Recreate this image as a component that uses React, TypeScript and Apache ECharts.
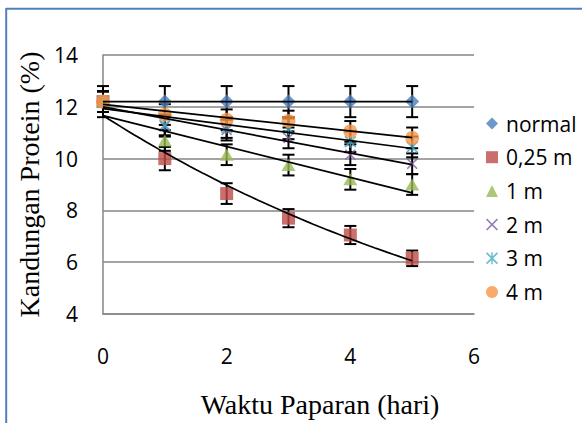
import React, { useEffect, useRef } from "react";
import * as echarts from "echarts";

const xDays = [0, 1, 2, 3, 4, 5];
const seriesNames = ["normal", "0,25 m", "1 m", "2 m", "3 m", "4 m"];
const normal = [12.2, 12.2, 12.2, 12.2, 12.2, 12.2];
const m025 = [12.2, 10.0, 8.65, 7.7, 7.05, 6.15];
const m1 = [12.2, 10.7, 10.15, 9.75, 9.2, 9.0];
const m2 = [12.2, 11.25, 11.1, 10.8, 10.15, 9.8];
const m3 = [12.2, 11.3, 11.2, 11.15, 10.65, 10.45];
const m4 = [12.2, 11.7, 11.5, 11.45, 11.05, 10.8];
const errNormal = [0.6, 0.6, 0.6, 0.6, 0.6, 0.6];
const err025 = [0.4, 0.45, 0.4, 0.35, 0.35, 0.3];
const err1 = [0.4, 0.4, 0.4, 0.4, 0.4, 0.4];
const err2 = [0.4, 0.4, 0.4, 0.4, 0.4, 0.4];
const err3 = [0.4, 0.4, 0.4, 0.4, 0.4, 0.4];
const err4 = [0.4, 0.4, 0.4, 0.4, 0.4, 0.4];
const trendTypes = ["linear", "exp", "linear", "linear", "linear", "linear"];
const yTicks = { min: 4, max: 14, interval: 2 };
const xTicks = { min: 0, max: 6, interval: 2 };

const values = [normal, m025, m1, m2, m3, m4];
const errors = [errNormal, err025, err1, err2, err3, err4];
const colors = ["#4A7EBB", "#BE4B48", "#98B954", "#7D60A0", "#46AAC5", "#F79646"];
const X_PATH = "path://M1,0 L5,4 L9,0 L10,1 L6,5 L10,9 L9,10 L5,6 L1,10 L0,9 L4,5 L0,1 Z";
const STAR_PATH =
  "path://M1,0 L5,4 L9,0 L10,1 L6,5 L10,9 L9,10 L5,6 L1,10 L0,9 L4,5 L0,1 Z M4.4,0 L5.6,0 L5.6,10 L4.4,10 Z";
const symbols: any[] = ["diamond", "rect", "triangle", X_PATH, STAR_PATH, "circle"];
const symbolSizes: any[] = [[14, 14], [13, 13], [14, 12], [11, 11], [12, 12], [14, 14]];

function linearFit(xs: number[], ys: number[]) {
  const n = xs.length;
  const mx = xs.reduce((a, b) => a + b, 0) / n;
  const my = ys.reduce((a, b) => a + b, 0) / n;
  let sxy = 0, sxx = 0;
  for (let i = 0; i < n; i++) {
    sxy += (xs[i] - mx) * (ys[i] - my);
    sxx += (xs[i] - mx) * (xs[i] - mx);
  }
  const b = sxy / sxx;
  return { a: my - b * mx, b };
}

function trendPoints(ys: number[], type: string) {
  const x0 = xDays[0];
  const x1 = xDays[xDays.length - 1];
  const pts: number[][] = [];
  if (type === "exp") {
    const f = linearFit(xDays, ys.map((v) => Math.log(v)));
    const steps = 50;
    for (let i = 0; i <= steps; i++) {
      const x = x0 + ((x1 - x0) * i) / steps;
      pts.push([x, Math.exp(f.a + f.b * x)]);
    }
  } else {
    const f = linearFit(xDays, ys);
    pts.push([x0, f.a + f.b * x0]);
    pts.push([x1, f.a + f.b * x1]);
  }
  return pts;
}

export default function App() {
  const ref = useRef<HTMLDivElement>(null);
  useEffect(() => {
    if (!ref.current) return;
    const chart = echarts.init(ref.current, undefined, { renderer: "svg" });
    const sans = "Open Sans";
    const serif = "Liberation Serif";

    const series: any[] = [];
    values.forEach((ys, si) => {
      series.push({
        name: "err" + si,
        type: "custom",
        data: xDays.map((x, i) => [x, ys[i], errors[si][i]]),
        encode: { x: 0, y: 1 },
        z: 2,
        renderItem: (params: any, api: any) => {
          const x = api.value(0);
          const y = api.value(1);
          const e = api.value(2);
          const top = api.coord([x, y + e]);
          const bot = api.coord([x, y - e]);
          const hw = 6;
          const st = { stroke: "#000", lineWidth: 2 };
          return {
            type: "group",
            children: [
              { type: "line", shape: { x1: top[0], y1: top[1], x2: bot[0], y2: bot[1] }, style: st },
              { type: "line", shape: { x1: top[0] - hw, y1: top[1], x2: top[0] + hw, y2: top[1] }, style: st },
              { type: "line", shape: { x1: bot[0] - hw, y1: bot[1], x2: bot[0] + hw, y2: bot[1] }, style: st },
            ],
          };
        },
      });
    });
    values.forEach((ys, si) => {
      series.push({
        name: seriesNames[si],
        type: "scatter",
        data: xDays.map((x, i) => [x, ys[i]]),
        symbol: symbols[si],
        symbolSize: symbolSizes[si],
        itemStyle: { color: colors[si] },
        z: 3,
      });
    });
    values.forEach((ys, si) => {
      series.push({
        name: "trend" + si,
        type: "line",
        data: trendPoints(ys, trendTypes[si]),
        showSymbol: false,
        smooth: false,
        lineStyle: { color: "#000", width: 1.7 },
        z: 4,
      });
    });

    chart.setOption({
      animation: false,
      grid: { left: 103, right: 108, top: 55, bottom: 105 },
      legend: {
        data: seriesNames,
        orient: "vertical",
        left: 481,
        top: 108,
        itemWidth: 12,
        itemHeight: 12,
        itemGap: 12.7,
        textStyle: { fontFamily: sans, fontSize: 21, color: "#000", lineHeight: 21, padding: [0, 0, 0, 3] },
      },
      xAxis: {
        type: "value",
        min: xTicks.min,
        max: xTicks.max,
        interval: xTicks.interval,
        name: "Waktu Paparan (hari)",
        nameLocation: "middle",
        nameGap: 76,
        nameTextStyle: { fontFamily: serif, fontSize: 28, color: "#000", padding: [0, 0, 0, 63] },
        axisLine: { lineStyle: { color: "#868686", width: 1.5 } },
        axisTick: { show: false },
        splitLine: { show: false },
        axisLabel: { fontFamily: sans, fontSize: 21, color: "#000", margin: 31 },
      },
      yAxis: {
        type: "value",
        min: yTicks.min,
        max: yTicks.max,
        interval: yTicks.interval,
        name: "Kandungan Protein (%)",
        nameLocation: "middle",
        nameGap: 58,
        nameTextStyle: { fontFamily: serif, fontSize: 28, color: "#000" },
        axisLine: { show: true, lineStyle: { color: "#868686", width: 1.5 } },
        axisTick: { show: false },
        splitLine: { lineStyle: { color: "#868686", width: 1.5 } },
        axisLabel: { fontFamily: sans, fontSize: 21, color: "#000", margin: 25 },
      },
      graphic: [
        { type: "line", shape: { x1: 6, y1: 8.7, x2: 582, y2: 8.7 }, style: { stroke: "#4F81BD", lineWidth: 2 } },
        { type: "line", shape: { x1: 6.2, y1: 8, x2: 6.2, y2: 423 }, style: { stroke: "#4F81BD", lineWidth: 2 } },
      ],
      series,
    });
    return () => chart.dispose();
  }, []);
  return (
    <div
      ref={ref}
      style={{ position: "fixed", left: 0, top: 0, width: 582, height: 423, background: "#fff" }}
    />
  );
}
